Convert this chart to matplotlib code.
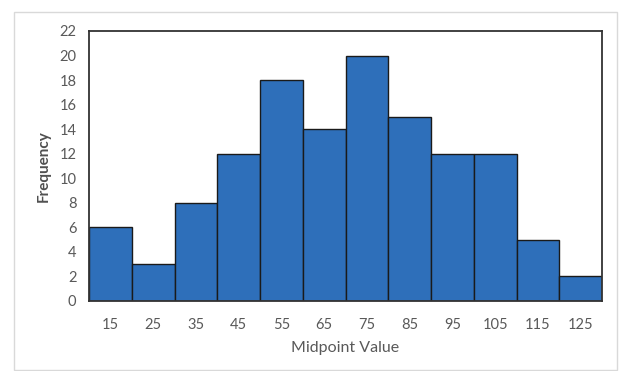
import matplotlib
matplotlib.use("Agg")
import matplotlib.pyplot as plt
from matplotlib.patches import Rectangle

midpoints = [15, 25, 35, 45, 55, 65, 75, 85, 95, 105, 115, 125]
frequency = [6, 3, 8, 12, 18, 14, 20, 15, 12, 12, 5, 2]
y_ticks = list(range(0, 23, 2))
bin_width = 10

plt.rcParams['font.family'] = ['Lato', 'DejaVu Sans']

W, H = 621, 371
fig = plt.figure(figsize=(W / 100, H / 100), dpi=100)
fig.patch.set_facecolor('white')

# light outer chart frame
fig.patches.append(Rectangle((14 / W, 1 - 370 / H), (617 - 14) / W, (370 - 12) / H,
                             transform=fig.transFigure, fill=False,
                             edgecolor='#d9d9d9', linewidth=1.0))

ax = fig.add_axes([89 / W, 1 - 301 / H, (602 - 89) / W, (301 - 31) / H])
ax.bar(midpoints, frequency, width=bin_width, color='#2E6FBA',
       edgecolor='#1a1a1a', linewidth=1.0, align='center')

ax.set_xlim(midpoints[0] - bin_width / 2, midpoints[-1] + bin_width / 2)
ax.set_ylim(0, 22)
ax.set_xticks(midpoints)
ax.set_xticklabels([str(m) for m in midpoints])
ax.set_yticks(y_ticks)
ax.tick_params(axis='both', length=0, labelsize=10.5, colors='#595959')
ax.tick_params(axis='x', pad=12)
ax.tick_params(axis='y', pad=9)

for s in ax.spines.values():
    s.set_color('#333333')
    s.set_linewidth(1.3)

ax.set_xlabel('Midpoint Value', fontsize=11.5, color='#595959', labelpad=7)
ax.set_ylabel('Frequency', fontsize=11, color='#505050', fontweight='bold', labelpad=6)

fig.savefig('out.png', dpi=100)
